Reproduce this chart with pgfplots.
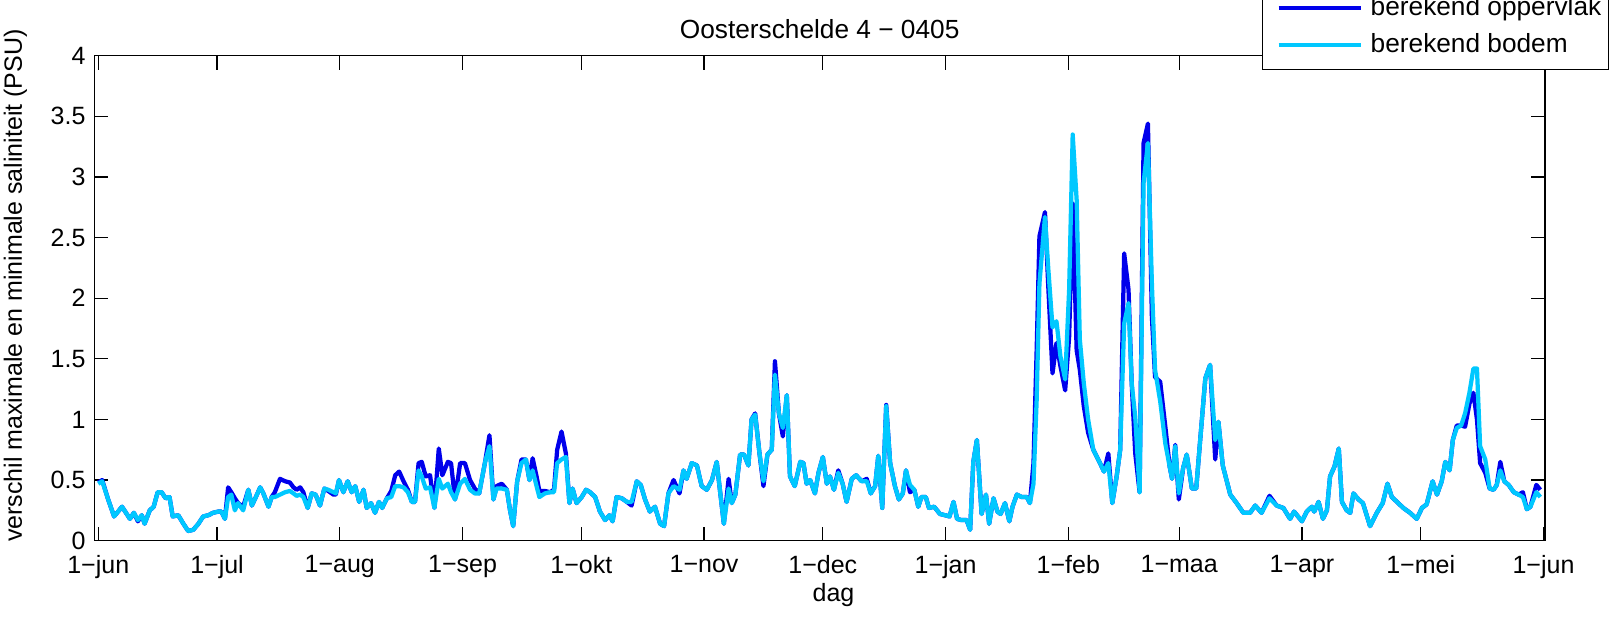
\documentclass[border=0pt]{standalone}
\usepackage{pgfplots}
\pgfplotsset{compat=1.18}
\usepackage{pgfplotstable}
\usepackage{fontspec}
\setmainfont{Liberation Sans}

\definecolor{oppblue}{RGB}{0,0,235}
\definecolor{bodcyan}{RGB}{0,200,255}

% dag 0 = 1 juni, waarden in PSU
\pgfplotstableread{
d opp bod
0 0.48 0.47
1 0.50 0.49
2.5 0.34 0.34
4 0.20 0.20
6 0.28 0.28
8 0.18 0.18
9 0.23 0.23
10 0.16 0.17
11 0.21 0.21
11.7 0.14 0.14
13 0.25 0.25
14 0.28 0.28
15 0.40 0.40
16 0.40 0.40
17 0.35 0.35
18 0.36 0.36
18.8 0.20 0.20
20.2 0.21 0.21
21.5 0.14 0.14
22.7 0.08 0.08
24 0.09 0.09
25.3 0.14 0.14
26.5 0.20 0.20
27.8 0.21 0.21
29 0.23 0.23
30.3 0.24 0.24
31.1 0.24 0.24
32 0.18 0.18
32.8 0.44 0.36
33.6 0.40 0.38
34.5 0.35 0.25
35.3 0.31 0.31
36.6 0.28 0.25
37.9 0.42 0.42
38.8 0.29 0.29
39.8 0.36 0.36
40.9 0.44 0.44
41.7 0.39 0.39
43 0.28 0.28
43.8 0.36 0.36
44.6 0.40 0.36
45.9 0.51 0.38
47.2 0.49 0.40
48.4 0.48 0.41
49.3 0.44 0.39
50.1 0.42 0.37
51 0.44 0.38
51.8 0.40 0.36
52.9 0.27 0.27
53.9 0.39 0.39
54.9 0.38 0.38
56 0.29 0.29
57.1 0.43 0.43
58.1 0.41 0.42
59.4 0.38 0.40
60 0.38 0.39
60.8 0.50 0.50
61.9 0.40 0.40
63 0.49 0.49
64 0.40 0.40
64.9 0.45 0.45
65.9 0.32 0.32
67 0.42 0.42
67.8 0.27 0.27
68.9 0.31 0.31
69.9 0.23 0.23
70.9 0.32 0.32
71.7 0.27 0.27
72.9 0.35 0.35
74 0.41 0.36
75 0.54 0.45
76 0.57 0.45
77.1 0.49 0.44
78.2 0.42 0.40
79.2 0.32 0.32
80 0.32 0.32
80.9 0.64 0.58
81.7 0.65 0.53
82.7 0.53 0.43
83.8 0.54 0.44
84.9 0.27 0.27
86 0.76 0.51
86.9 0.54 0.43
88.3 0.65 0.47
89.1 0.64 0.40
90.1 0.34 0.34
91.4 0.64 0.47
92.6 0.64 0.51
93.9 0.50 0.42
95.1 0.43 0.39
96.2 0.39 0.39
97.7 0.65 0.65
98.8 0.87 0.78
99.8 0.34 0.34
100.6 0.45 0.43
101.9 0.47 0.43
103.2 0.42 0.42
104 0.25 0.25
104.8 0.12 0.12
105.8 0.49 0.49
106.9 0.67 0.64
108 0.67 0.67
108.9 0.50 0.50
109.7 0.68 0.58
110.7 0.53 0.45
111.4 0.41 0.36
112.8 0.41 0.39
114.1 0.40 0.40
115.1 0.42 0.40
115.9 0.75 0.64
117 0.90 0.67
118.1 0.72 0.69
119 0.31 0.31
119.8 0.43 0.43
120.8 0.31 0.31
122.1 0.36 0.36
123.2 0.42 0.42
124.2 0.40 0.40
125.5 0.36 0.36
126.7 0.24 0.24
128 0.17 0.17
129.1 0.21 0.21
129.9 0.16 0.16
130.9 0.36 0.36
132.2 0.35 0.35
133.5 0.32 0.32
134.7 0.29 0.32
136 0.49 0.49
137 0.46 0.46
138.1 0.34 0.34
139.3 0.24 0.24
140.6 0.28 0.28
141.9 0.14 0.14
142.9 0.12 0.12
144 0.39 0.39
145.3 0.50 0.45
146.8 0.39 0.42
147.8 0.58 0.58
148.6 0.51 0.51
149.9 0.64 0.64
151.2 0.62 0.62
152.4 0.45 0.45
153.7 0.42 0.42
155 0.50 0.50
156.2 0.65 0.65
157 0.42 0.42
158 0.14 0.14
159.2 0.51 0.43
160 0.31 0.31
160.9 0.38 0.38
162.1 0.71 0.71
163.1 0.71 0.71
164.2 0.62 0.62
165 1.00 1.00
165.9 1.05 1.04
167 0.72 0.72
168 0.45 0.49
169 0.71 0.71
170.1 0.75 0.75
170.9 1.48 1.37
171.9 1.05 1.05
172.9 0.86 0.93
173.9 1.20 1.20
174.7 0.53 0.53
175.9 0.45 0.45
177.3 0.65 0.65
178.1 0.64 0.64
178.9 0.47 0.47
179.8 0.50 0.50
181 0.39 0.39
181.9 0.56 0.56
183 0.69 0.69
184 0.47 0.47
184.8 0.53 0.53
185.8 0.42 0.42
186.9 0.58 0.56
188 0.47 0.47
189 0.32 0.32
190.3 0.51 0.51
191.4 0.54 0.54
192.8 0.49 0.49
194.1 0.51 0.49
195.1 0.39 0.39
196.2 0.45 0.45
197 0.70 0.70
198 0.27 0.27
199 1.12 1.11
200 0.64 0.64
201.2 0.45 0.45
202.2 0.34 0.34
203.2 0.39 0.39
204 0.58 0.58
205 0.40 0.46
206.1 0.42 0.42
207.1 0.28 0.28
207.9 0.36 0.36
209 0.36 0.36
209.8 0.27 0.27
211.1 0.28 0.28
212.6 0.22 0.22
213.9 0.21 0.21
215 0.20 0.20
216 0.32 0.32
216.9 0.18 0.18
218 0.17 0.17
219.3 0.17 0.17
220.2 0.09 0.09
221 0.65 0.65
221.9 0.83 0.83
223.1 0.22 0.22
224.2 0.38 0.38
225 0.14 0.14
226.1 0.35 0.35
227.1 0.24 0.24
227.9 0.22 0.22
229 0.31 0.31
230.1 0.16 0.16
230.9 0.28 0.28
232 0.38 0.38
233.2 0.36 0.36
234.5 0.36 0.36
235.3 0.31 0.31
236.2 0.64 0.47
237 1.57 1.16
237.7 2.51 2.12
239.1 2.71 2.67
239.9 2.12 2.26
241 1.38 1.76
242 1.63 1.81
243 1.44 1.52
244.2 1.24 1.33
245.2 1.68 2.07
246.1 2.78 3.35
247.1 1.57 2.81
247.9 1.41 1.66
248.9 1.11 1.30
250 0.89 1.00
251.3 0.75 0.75
253 0.64 0.64
254 0.57 0.57
255.1 0.72 0.64
256.1 0.31 0.31
257.2 0.53 0.53
258.1 0.75 0.75
259.1 2.37 1.79
260.2 2.07 1.96
261 1.30 1.30
261.9 0.72 1.02
263 0.40 0.40
264 3.28 2.95
265.1 3.44 3.28
266.1 1.85 2.12
266.9 1.35 1.41
268.2 1.31 1.15
269.5 0.94 0.80
270.6 0.61 0.61
271.2 0.51 0.51
272 0.79 0.78
272.9 0.34 0.39
274 0.60 0.60
274.9 0.71 0.71
276.2 0.43 0.43
277.3 0.43 0.43
278.3 0.83 0.83
279.6 1.34 1.34
280.8 1.45 1.45
282.1 0.67 0.83
282.9 0.98 0.98
284 0.62 0.62
285.9 0.38 0.38
287.5 0.31 0.31
289.2 0.23 0.23
290.9 0.23 0.23
292.2 0.29 0.29
293.8 0.23 0.23
295.8 0.37 0.35
297.6 0.29 0.29
299.3 0.27 0.27
301 0.18 0.18
302 0.24 0.24
304 0.16 0.16
305.2 0.24 0.24
306.5 0.28 0.28
307.1 0.24 0.24
308.2 0.32 0.32
309.3 0.18 0.18
310.3 0.25 0.25
311.1 0.53 0.53
312.2 0.61 0.61
313.3 0.76 0.76
314.1 0.32 0.32
315.3 0.25 0.25
316.2 0.23 0.23
317 0.39 0.39
318.3 0.34 0.34
319.4 0.31 0.31
321.2 0.12 0.12
322.9 0.23 0.23
324.4 0.31 0.31
325.6 0.47 0.47
326.7 0.36 0.36
328 0.32 0.32
329.6 0.27 0.27
331.3 0.23 0.23
333 0.18 0.18
334.3 0.27 0.27
335.5 0.30 0.30
337 0.49 0.49
338.1 0.38 0.38
339.3 0.49 0.49
340.2 0.65 0.65
341.3 0.58 0.58
342.1 0.83 0.83
343.1 0.95 0.93
344.2 0.95 0.95
345.2 0.94 1.05
346.3 1.13 1.22
347.3 1.22 1.42
348.2 1.00 1.42
349 0.64 0.78
350.3 0.56 0.67
351.4 0.43 0.43
352.4 0.42 0.42
353.2 0.46 0.46
354.1 0.65 0.58
355.1 0.49 0.49
356.2 0.46 0.46
357.5 0.40 0.40
358.7 0.38 0.38
359.8 0.40 0.36
360.8 0.26 0.26
361.7 0.28 0.28
363.2 0.46 0.40
364.2 0.42 0.36
}\saldata

\begin{document}
\begin{tikzpicture}
\begin{axis}[
    scale only axis,
    width=580.3pt, height=194pt,
    xmin=-1, xmax=365.4, ymin=0, ymax=4,
    xtick={0,30,61,92,122,153,183,214,245,273,304,334,365},
    xticklabels={1−jun,1−jul,1−aug,1−sep,1−okt,1−nov,1−dec,1−jan,1−feb,1−maa,1−apr,1−mei,1−jun},
    ytick={0,0.5,1,1.5,2,2.5,3,3.5,4},
    yticklabels={0,0.5,1,1.5,2,2.5,3,3.5,4},
    tick align=inside,
    major tick length=5.6pt,
    axis line style={line width=0.6pt},
    every tick/.style={black, line width=0.5pt},
    tick label style={font=\fontsize{10}{12}\selectfont},
    xticklabel style={yshift=-2.3pt},
    label style={font=\fontsize{10}{12}\selectfont},
    title={Oosterschelde 4 − 0405},
    every axis title shift=0pt,
    title style={font=\fontsize{10.5}{12}\selectfont, at={(axis description cs:0.5,1.0552)}, anchor=center},
    xlabel={dag},
    xlabel style={at={(axis description cs:0.5095,-0.1129)}, anchor=center},
    ylabel={verschil maximale en minimale saliniteit (PSU)},
    ylabel style={at={(axis description cs:-0.0543,0.526)}, anchor=center},
    legend cell align=left,
    legend image code/.code={
        \path[draw=none, fill=none] (0pt,0pt) -- (1pt,0pt);
        \draw[#1] (5.5pt,0pt) -- (38.3pt,0pt);
    },
    legend style={at={(axis description cs:0.8047,0.9705)}, anchor=south west,
        draw=black, line width=0.5pt, fill=white,
        font=\fontsize{10.5}{12}\selectfont,
        inner xsep=1pt, inner ysep=3.3pt, row sep=1.7pt,
        /tikz/every odd column/.append style={column sep=1.2pt}},
]
\addplot[oppblue, line width=1.7pt, line join=round] table[x=d, y=opp] {\saldata};
\addplot[bodcyan, line width=1.7pt, line join=round] table[x=d, y=bod] {\saldata};
\legend{berekend oppervlak, berekend bodem}
\end{axis}
\pgfresetboundingbox
\path[use as bounding box] (-37.72pt,-31.72pt) rectangle (609.48pt,216.28pt);
\end{tikzpicture}
\end{document}
